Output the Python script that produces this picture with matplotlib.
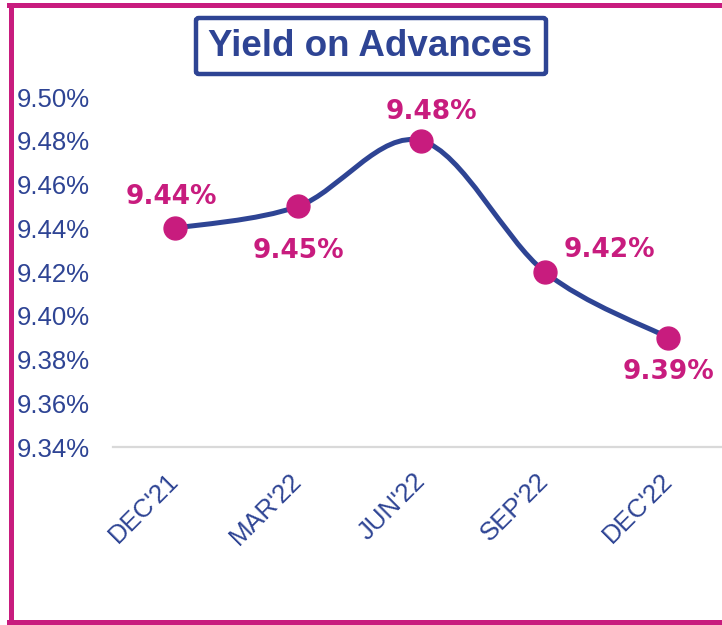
import matplotlib.pyplot as plt
import numpy as np
from matplotlib.path import Path
from matplotlib.patches import PathPatch, FancyBboxPatch
from matplotlib.lines import Line2D

quarters = ["DEC'21", "MAR'22", "JUN'22", "SEP'22", "DEC'22"]
yields = [9.44, 9.45, 9.48, 9.42, 9.39]
y_ticks = [9.34, 9.36, 9.38, 9.40, 9.42, 9.44, 9.46, 9.48, 9.50]

# label offsets in pixels (dx, dy) from each marker
label_offsets = [(-3, 31), (0, -45), (10, 29), (65, 22), (0, -34)]

navy = "#2E4494"
magenta = "#C81C7E"

W, H = 722, 625
fig = plt.figure(figsize=(W / 100, H / 100), dpi=100)
fig.patch.set_facecolor("white")

# axes placed in pixel terms
left, right, top, bottom = 113, 730, 97, 447
ax = fig.add_axes([left / W, 1 - bottom / H, (right - left) / W, (bottom - top) / H])

x = np.arange(len(quarters))
y = np.array(yields)

# smoothed line (catmull-rom -> bezier, like Excel's smoothing)
pts = np.column_stack([x, y]).astype(float)
ext = np.vstack([pts[0], pts, pts[-1]])
verts = [tuple(pts[0])]
codes = [Path.MOVETO]
for i in range(len(pts) - 1):
    p0, p1, p2, p3 = ext[i], ext[i + 1], ext[i + 2], ext[i + 3]
    c1 = p1 + (p2 - p0) / 6
    c2 = p2 - (p3 - p1) / 6
    verts += [tuple(c1), tuple(c2), tuple(p2)]
    codes += [Path.CURVE4] * 3
ax.add_patch(PathPatch(Path(verts, codes), facecolor="none", edgecolor=navy,
                       lw=3.6, capstyle="round", zorder=3))
ax.plot(x, y, "o", color=magenta, markersize=16.5, zorder=4)

for xi, yi, (dx, dy) in zip(x, y, label_offsets):
    ax.annotate(f"{yi:.2f}%", (xi, yi), xytext=(dx * 0.72, dy * 0.72),
                textcoords="offset points", ha="center", va="center",
                fontsize=19, fontweight="bold", color=magenta,
                family="DejaVu Sans", zorder=5, annotation_clip=False)

ax.set_xlim(-0.5, 4.5)
ax.set_ylim(9.34, 9.50)
ax.set_yticks(y_ticks)
ax.set_yticklabels([f"{t:.2f}%" for t in y_ticks])
ax.set_xticks(x)
ax.set_xticklabels(quarters, rotation=45, ha="right", va="center",
                   rotation_mode="anchor")

for lab in ax.get_xticklabels() + ax.get_yticklabels():
    lab.set_family("Liberation Sans")
    lab.set_color(navy)
    lab.set_fontsize(18.5)

ax.tick_params(axis="y", length=0, pad=17)
ax.tick_params(axis="x", length=0, pad=22)
for s in ["top", "right", "left"]:
    ax.spines[s].set_visible(False)
ax.spines["bottom"].set_color("#D9D9D9")
ax.spines["bottom"].set_linewidth(1.6)
ax.set_facecolor("none")

# title box
bx0, bx1, by0, by1 = 196, 546, 18, 74
fig.patches.append(FancyBboxPatch((bx0 / W, 1 - by1 / H), (bx1 - bx0) / W, (by1 - by0) / H,
                                  boxstyle="round,pad=0,rounding_size=0.004",
                                  transform=fig.transFigure, facecolor="white",
                                  edgecolor=navy, lw=3.2))
fig.text(370 / W, 1 - 47 / H, "Yield on Advances", ha="center", va="center",
         fontsize=26.5, fontweight="bold", color=navy, family="Liberation Sans")

# magenta frame on left, top and bottom
lw_frame = 3.6
fig.lines.append(Line2D([10.5 / W, 10.5 / W], [1 - 4.5 / H, 1 - 622 / H],
                        transform=fig.transFigure, color=magenta, lw=lw_frame))
fig.lines.append(Line2D([8.5 / W, 1], [1 - 4.5 / H, 1 - 4.5 / H],
                        transform=fig.transFigure, color=magenta, lw=lw_frame))
fig.lines.append(Line2D([8.5 / W, 1], [1 - 622 / H, 1 - 622 / H],
                        transform=fig.transFigure, color=magenta, lw=lw_frame))

fig.savefig("out.png", dpi=100)
